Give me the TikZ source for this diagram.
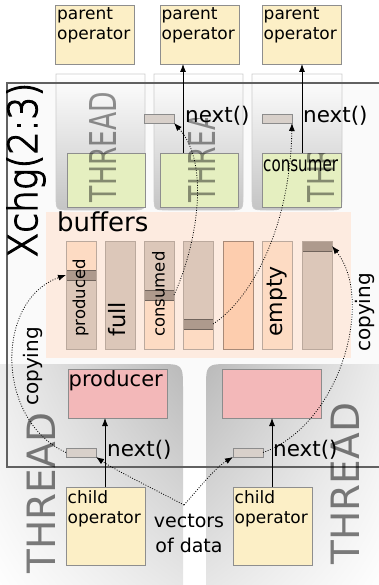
\documentclass[tikz,border=0pt]{standalone}
\usepackage{fontspec}
\setmainfont{DejaVu Sans}
\newfontfamily\xlfont[FakeBold=3]{DejaVu Sans ExtraLight}
\usetikzlibrary{arrows.meta,calc,shadings}
\definecolor{opfill}{HTML}{FCEFC6}
\definecolor{opdraw}{HTML}{8E8E8E}
\definecolor{greenfill}{HTML}{E5EFC0}
\definecolor{pinkfill}{HTML}{F3B8B9}
\definecolor{bufbg}{HTML}{FDEBE0}
\definecolor{taupe}{HTML}{DCC7B9}
\definecolor{peach}{HTML}{FDDBC3}
\definecolor{peachdeep}{HTML}{FDCDAE}
\definecolor{bandc}{HTML}{AE9A8D}
\definecolor{bufdraw}{HTML}{BBA99D}
\definecolor{deepdraw}{HTML}{A88A78}
\definecolor{nextfill}{HTML}{D8D0CA}
\newcommand\myfs[2]{\fontsize{#1}{#2}\selectfont}
\begin{document}
\begin{tikzpicture}[x=1pt,y=-1pt,
  box/.style={inner sep=0pt, outer sep=0pt, anchor=north west, line width=0.7pt},
  opbox/.style={box, draw=opdraw, fill=opfill, minimum width=79pt},
  greenbox/.style={box, draw=opdraw, fill=greenfill, minimum width=78pt, minimum height=54pt},
  pinkbox/.style={box, draw=black!45, fill=pinkfill, minimum width=99pt, minimum height=49pt},
  nextbox/.style={box, draw=black!45, fill=nextfill, minimum width=30pt, minimum height=9pt},
  bufcol/.style={box, draw=bufdraw, minimum width=30pt, minimum height=108pt},
  bandbox/.style={box, draw=black!35!bandc, fill=bandc, minimum width=30pt, minimum height=10pt},
  optext/.style={inner sep=0pt, anchor=north west, align=left, font=\myfs{17}{20}},
  nexttext/.style={inner sep=0pt, anchor=west, font=\myfs{21.5}{24}},
  coltext/.style={inner sep=0pt, anchor=west, rotate=90},
  threadtop/.style={top color=white, bottom color=black!23, draw=black!20, line width=0.7pt},
  threadtext/.style={inner sep=0pt, rotate=90, text=black, text opacity=0.42},
  arr/.style={line width=0.8pt, -{Latex[length=8pt,width=6pt]}},
  dotarr/.style={line width=0.8pt, dash pattern=on 0.9pt off 1.6pt, -{Latex[length=8pt,width=6pt]}}
]
\useasboundingbox (0,0) rectangle (379,585);

% Xchg background
\node[box, fill=black!2, minimum width=385pt, minimum height=384pt] (xchgbg) at (7,83) {};

% top threads
\shade[threadtop] (56,74) -- (56,196) .. controls (56,210) .. (70,210) -- (131,210) .. controls (145,210) .. (145,196) -- (145,74) -- cycle;
\shade[threadtop] (154,74) -- (154,196) .. controls (154,210) .. (168,210) -- (229,210) .. controls (243,210) .. (243,196) -- (243,74) -- cycle;
\shade[threadtop] (252,74) -- (252,196) .. controls (252,210) .. (266,210) -- (328,210) .. controls (342,210) .. (342,196) -- (342,74) -- cycle;

% bottom threads
\shade[upper left=black!7, upper right=black!27, lower left=white, lower right=black!9]
  (-5,364) -- (158,364) .. controls (183,364) .. (183,389) -- (183,592) -- (-5,592) -- cycle;
\shade[upper left=black!27, upper right=black!7, lower left=black!9, lower right=white]
  (385,364) -- (231,364) .. controls (206,364) .. (206,389) -- (206,592) -- (385,592) -- cycle;

% Xchg border
\node[box, draw=black!62, line width=1.4pt, minimum width=385pt, minimum height=384pt] (xchg) at (7,83) {};
\node[inner sep=0pt, rotate=90] (xlabel) at (26,170) {\xlfont\myfs{40}{44}\scalebox{0.9}[1]{Xchg(2:3)}};

% parent operators
\node[opbox, minimum height=59pt] (p1) at (55.5,5) {};
\node[opbox, minimum height=59pt] (p2) at (160,5) {};
\node[opbox, minimum height=59pt] (p3) at (262,5) {};
\node[optext] (p1t) at (57,7.5) {parent\\operator};
\node[optext] (p2t) at (161.5,7.5) {parent\\operator};
\node[optext] (p3t) at (263.5,7.5) {parent\\operator};

% green boxes
\node[greenbox] (g1) at (67,153) {};
\node[greenbox] (g2) at (160,153) {};
\node[greenbox, minimum width=79pt] (g3) at (262,153) {};
\node[inner sep=0pt, anchor=base west] (cons) at (263,172) {\myfs{21}{24}\scalebox{0.72}[1]{consumer}};

% THREAD labels on top threads
\node[threadtext] (th1) at (103.5,147) {\myfs{37}{40}\scalebox{0.72}[1]{THREAD}};
\begin{scope}
  \clip (150,119) rectangle (245,212);
  \node[threadtext] (th2) at (202,147) {\myfs{37}{40}\scalebox{0.72}[1]{THREAD}};
\end{scope}
\begin{scope}
  \clip (250,154) rectangle (345,212);
  \node[threadtext] (th3) at (321,147) {\myfs{37}{40}\scalebox{0.72}[1]{THREAD}};
\end{scope}

% next boxes top
\node[nextbox] (n2) at (144,114) {};
\node[nextbox] (n3) at (262,114) {};
\node[nexttext] (n2t) at (185,116) {next()};
\node[nexttext] (n3t) at (303,116) {next()};

% arrows to parents
\coordinate (a2) at ($(g2.north west)+(23,0)$);
\coordinate (a3) at ($(g3.north west)+(40,0)$);
\draw[arr] (a2) -- (a2 |- p2.south);
\draw[arr] (a3) -- (a3 |- p3.south);

% buffers
\node[box, fill=bufbg, minimum width=305pt, minimum height=146pt] (buf) at (46,212) {};
\node[inner sep=0pt, anchor=base west] (buft) at (57,231) {\myfs{26}{30}buffers};

% column 1
\fill[peach] (66,241) rectangle (96,270);
\fill[taupe] (66,280) rectangle (96,349);
\node[bandbox] (band1) at (66,270) {};
\node[bufcol] (col1) at (66,241) {};
% column 2
\node[bufcol, fill=taupe] (col2) at (105,241) {};
% column 3
\fill[taupe] (144,241) rectangle (174,290);
\fill[peach] (144,300) rectangle (174,349);
\node[bandbox] (band3) at (144,290) {};
\node[bufcol] (col3) at (144,241) {};
% column 4
\fill[taupe] (183,241) rectangle (213,319);
\fill[peach] (183,329) rectangle (213,349);
\node[bandbox] (band4) at (183,319) {};
\node[bufcol] (col4) at (183,241) {};
% column 5
\node[bufcol, fill=peachdeep, draw=deepdraw] (col5) at (223,241) {};
% column 6
\node[bufcol, fill=peach] (col6) at (262,241) {};
% column 7
\fill[taupe] (302,241) rectangle (332,349);
\node[bandbox] (band7) at (302,241) {};
\node[bufcol] (col7) at (302,241) {};

\node[coltext] (t1) at (80.5,337) {\myfs{16.5}{20}produced};
\node[coltext] (t2) at (117,337) {\myfs{22.5}{26}full};
\node[coltext] (t3) at (158.5,337) {\myfs{16.5}{20}consumed};
\node[coltext] (t6) at (277,337) {\myfs{22}{26}empty};

% copying labels
\node[coltext] (cpl) at (32.5,406) {\myfs{20}{24}copying};
\node[coltext] (cpr) at (365,352) {\myfs{20}{24}copying};

% producers
\node[pinkbox] (pr1) at (68,369) {};
\node[pinkbox] (pr2) at (222,369) {};
\node[inner sep=0pt, anchor=base west] (prt) at (68.5,386) {\myfs{21}{24}producer};

% bottom next boxes
\node[nextbox] (nbl) at (66,448) {};
\node[nextbox] (nbr) at (233,448) {};
\node[nexttext] (nblt) at (107,450) {next()};
\node[nexttext] (nbrt) at (273,450) {next()};

% child operators
\node[opbox, minimum height=78pt] (c1) at (66,487) {};
\node[opbox, minimum height=78pt] (c2) at (233,487) {};
\node[optext] (c1t) at (67.5,490) {child\\operator};
\node[optext] (c2t) at (234.5,490) {child\\operator};

% bottom THREAD labels
\node[threadtext, text opacity=0.5] (thbl) at (41,493) {\myfs{39}{42}THREAD};
\node[threadtext, text opacity=0.5] (thbr) at (345,483.5) {\myfs{39}{42}THREAD};

% vectors of data
\node[inner sep=0pt, anchor=north, align=center, font=\myfs{19}{25}] (vd) at (189,513.5) {vectors\\of data};
\coordinate (vds) at (184,505);

% arrows child -> producer
\coordinate (b1) at ($(c1.north west)+(39,0)$);
\coordinate (b2) at ($(c2.north west)+(39,0)$);
\draw[arr] (b1) -- (b1 |- pr1.south);
\draw[arr] (b2) -- (b2 |- pr2.south);

% dotted arrows
\draw[dotarr] (band3.east) .. controls (195,250) and (212,165) .. (n2.south east);
\draw[dotarr] (band4.east) .. controls (250,300) and (290,230) .. (n3.south east);
\draw[dotarr] (nbl.west) .. controls (-5,420) and (-5,300) .. (band1.west);
\draw[dotarr] (nbr.east) .. controls (340,425) and (375,300) .. (band7.east);
\draw[dotarr] (vds) .. controls (150,487) and (115,470) .. (nbl.south east);
\draw[dotarr] (vds) .. controls (200,487) and (215,468) .. (nbr.south west);
\end{tikzpicture}
\end{document}
